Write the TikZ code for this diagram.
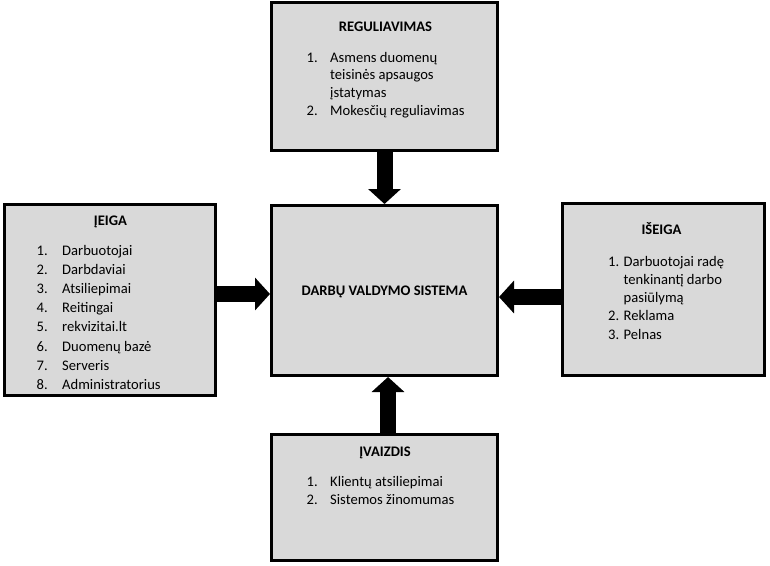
\documentclass[tikz,border=0pt]{standalone}
\usepackage{fontspec}
\setmainfont{Carlito}
\usetikzlibrary{arrows.meta}
\definecolor{boxgray}{HTML}{D9D9D9}

\begin{document}
\begin{tikzpicture}[x=1pt, y=-1pt,
    box/.style={draw, line width=3pt, fill=boxgray, rectangle, inner sep=0pt},
    title/.style={inner sep=0pt, anchor=base, font=\bfseries\fontsize{14.6}{17}\selectfont},
    items/.style={inner sep=0pt, anchor=base west, font=\fontsize{14.6}{#1}\selectfont},
    bigarrow/.style={line width=16pt, -{Triangle[width=32pt, length=15pt]}}]
        \useasboundingbox (0,0) rectangle (770,565);

        % the five boxes
        \node[box, minimum width=226pt, minimum height=148pt] (reg) at (384.5,76.5) {};
        \node[box, minimum width=226pt, minimum height=170pt] (sys) at (384.5,290.5) {};
        \node[box, minimum width=211pt, minimum height=191pt] (in) at (110,300) {};
        \node[box, minimum width=202pt, minimum height=172pt] (out) at (663.5,289.5) {};
        \node[box, minimum width=226pt, minimum height=126pt] (img) at (384.5,497.5) {};

        % titles
        \node[title] (regT) at (385.5,31) {REGULIAVIMAS};
        \node[title] (sysT) at (384.5,295.5) {DARBŲ VALDYMO SISTEMA};
        \node[title] (inT) at (110.5,225.5) {ĮEIGA};
        \node[title] (outT) at (661.5,234) {IŠEIGA};
        \node[title] (imgT) at (385,456) {ĮVAIZDIS};

        % lists
        \node[items=17.7] (regL) at (306.5,62) {\begin{tabular}[t]{@{}p{23.5pt}@{}l@{}}
            1. & Asmens duomenų\\
               & teisinės apsaugos\\
               & įstatymas\\
            2. & Mokesčių reguliavimas
        \end{tabular}};
        \node[items=19.1] (inL) at (36.5,255.5) {\begin{tabular}[t]{@{}p{25.5pt}@{}l@{}}
            1. & Darbuotojai\\
            2. & Darbdaviai\\
            3. & Atsiliepimai\\
            4. & Reitingai\\
            5. & rekvizitai.lt\\
            6. & Duomenų bazė\\
            7. & Serveris\\
            8. & Administratorius
        \end{tabular}};
        \node[items=18.3] (outL) at (608,266) {\begin{tabular}[t]{@{}p{15.5pt}@{}l@{}}
            1. & Darbuotojai radę\\
               & tenkinantį darbo\\
               & pasiūlymą\\
            2. & Reklama\\
            3. & Pelnas
        \end{tabular}};
        \node[items=18.3] (imgL) at (306.5,486) {\begin{tabular}[t]{@{}p{23.5pt}@{}l@{}}
            1. & Klientų atsiliepimai\\
            2. & Sistemos žinomumas
        \end{tabular}};

        % arrows into the system
        \coordinate (inArr) at (0,294);
        \coordinate (outArr) at (0,297);
        \coordinate (imgArr) at (388,0);
        \draw[bigarrow] (reg.south) -- (sys.north);
        \draw[bigarrow] (in.east |- inArr) -- (sys.west |- inArr);
        \draw[bigarrow] (out.west |- outArr) -- (sys.east |- outArr);
        \draw[bigarrow] (img.north -| imgArr) -- (sys.south -| imgArr);
    \end{tikzpicture}
\end{document}
